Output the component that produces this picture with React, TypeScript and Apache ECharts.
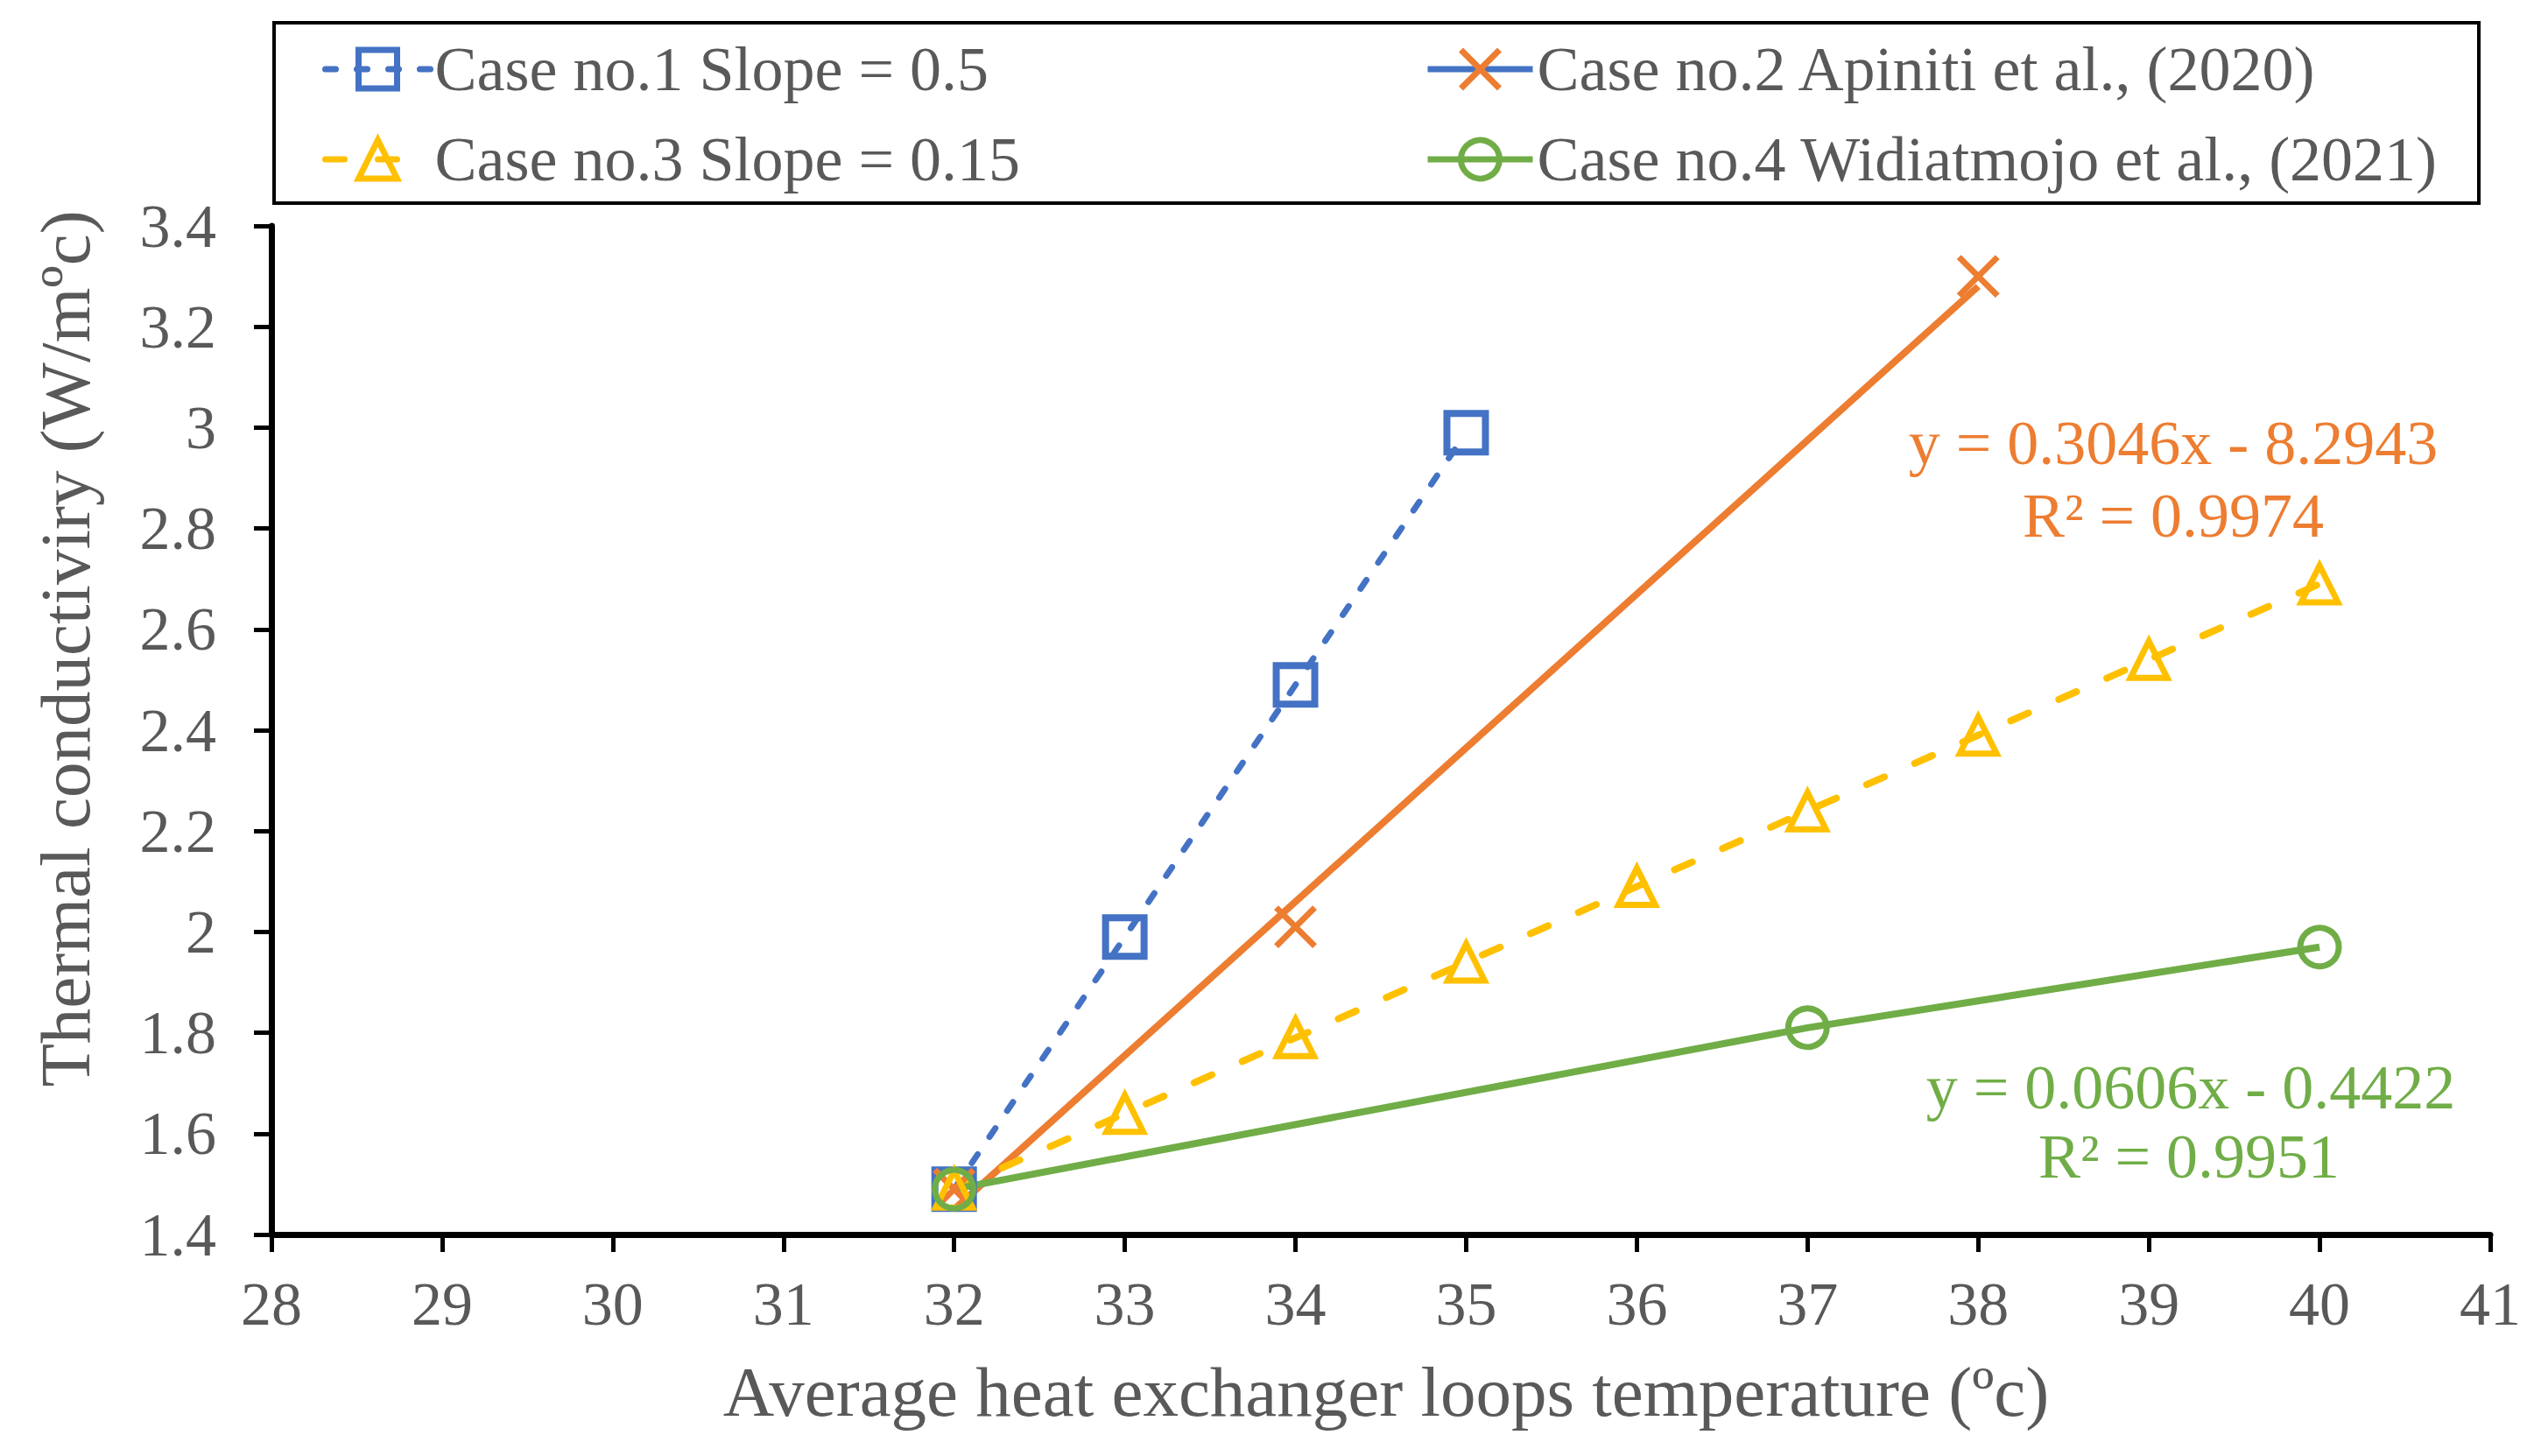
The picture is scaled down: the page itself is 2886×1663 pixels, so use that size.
import React, { useEffect, useRef } from "react";
import * as echarts from "echarts";

const FONT = "'Liberation Serif', 'Times New Roman', serif";
const GRAY = "#595959";
const BLUE = "#4472C4";
const ORANGE = "#ED7D31";
const YELLOW = "#FFC000";
const GREEN = "#70AD47";

const seriesNames = [
  "Case no.1 Slope = 0.5",
  "Case no.2 Apiniti et al., (2020)",
  "Case no.3 Slope = 0.15",
  "Case no.4 Widiatmojo et al., (2021)",
];

const case1X = [32, 33, 34, 35];
const case1Y = [1.49, 1.99, 2.49, 2.99];

const case2X = [32, 34, 38];
const case2Y = [1.49, 2.01, 3.3];

const trend2X = [32, 38];
const trend2Y = [1.45, 3.28];

const case3X = [32, 33, 34, 35, 36, 37, 38, 39, 40];
const case3Y = [1.49, 1.64, 1.79, 1.94, 2.09, 2.24, 2.39, 2.54, 2.69];

const case4X = [32, 37, 40];
const case4Y = [1.49, 1.81, 1.97];

const eq2 = ["y = 0.3046x - 8.2943", "R\u00b2 = 0.9974"];
const eq4 = ["y = 0.0606x - 0.4422", "R\u00b2 = 0.9951"];

const xAxisTitle = "Average heat exchanger loops temperature (\u00bac)";
const yAxisTitle = "Thermal conductiviry (W/m\u00bac)";

const xMin = 28;
const xMax = 41;
const yMin = 1.4;
const yMax = 3.4;

const zip = (xs: number[], ys: number[]) => xs.map((x, i) => [x, ys[i]]);

const CROSS = "path://M0,0L10,10M10,0L0,10";

export default function App() {
  const ref = useRef<HTMLDivElement>(null);

  useEffect(() => {
    if (!ref.current) return;
    const chart = echarts.init(ref.current, null, { renderer: "svg" });

    const legendCommon = {
      orient: "vertical",
      top: 43,
      padding: 0,
      itemWidth: 120,
      itemHeight: 55,
      itemGap: 31,
      selectedMode: false,
      textStyle: { fontSize: 72, lineHeight: 72, color: GRAY, fontFamily: FONT },
      itemStyle: { borderWidth: 7 },
      lineStyle: { width: 7 },
    };

    const textStyle = (size: number, color: string) => ({
      fontSize: size,
      fontFamily: FONT,
      fill: color,
      align: "center",
      verticalAlign: "middle",
    });

    const option: any = {
      animation: false,
      backgroundColor: "#ffffff",
      grid: {
        left: 310,
        right: 42,
        top: 258,
        bottom: 253,
        containLabel: false,
        outerBoundsMode: "none",
      },
      legend: [
        {
          ...legendCommon,
          left: 368,
          data: [seriesNames[0], seriesNames[2]],
        },
        {
          ...legendCommon,
          left: 1627,
          data: [
            {
              name: seriesNames[1],
              lineStyle: { color: BLUE, width: 7, type: "solid" },
            },
            seriesNames[3],
          ],
        },
      ],
      xAxis: {
        type: "value",
        min: xMin,
        max: xMax,
        interval: 1,
        splitLine: { show: false },
        axisLine: { show: true, onZero: false, lineStyle: { color: "#000", width: 7 } },
        axisTick: { show: true, length: 20, lineStyle: { color: "#000", width: 5 } },
        axisLabel: { fontSize: 70, color: GRAY, fontFamily: FONT, margin: 44 },
      },
      yAxis: {
        type: "value",
        min: yMin,
        max: yMax,
        interval: 0.2,
        splitLine: { show: false },
        axisLine: { show: true, onZero: false, lineStyle: { color: "#000", width: 7 } },
        axisTick: { show: true, length: 20, lineStyle: { color: "#000", width: 5 } },
        axisLabel: { fontSize: 70, color: GRAY, fontFamily: FONT, margin: 63 },
      },
      series: [
        {
          type: "line",
          name: seriesNames[0],
          data: zip(case1X, case1Y),
          symbol: "rect",
          symbolSize: 44,
          itemStyle: { color: "rgba(0,0,0,0)", borderColor: BLUE, borderWidth: 8 },
          lineStyle: { color: BLUE, width: 7, type: [12, 24], cap: "round" },
          emphasis: { disabled: true },
        },
        {
          type: "line",
          name: seriesNames[1],
          data: zip(case2X, case2Y),
          symbol: CROSS,
          symbolSize: 44,
          itemStyle: { color: "rgba(0,0,0,0)", borderColor: ORANGE, borderWidth: 7 },
          lineStyle: { color: ORANGE, width: 0 },
          emphasis: { disabled: true },
        },
        {
          type: "line",
          name: "trend2",
          data: zip(trend2X, trend2Y),
          symbol: "none",
          lineStyle: { color: ORANGE, width: 8 },
          silent: true,
          emphasis: { disabled: true },
        },
        {
          type: "line",
          name: seriesNames[2],
          data: zip(case3X, case3Y),
          symbol: "triangle",
          symbolSize: 42,
          itemStyle: { color: "rgba(0,0,0,0)", borderColor: YELLOW, borderWidth: 7 },
          lineStyle: { color: YELLOW, width: 8, type: [22, 38], cap: "round" },
          emphasis: { disabled: true },
        },
        {
          type: "line",
          name: seriesNames[3],
          data: zip(case4X, case4Y),
          symbol: "circle",
          symbolSize: 44,
          itemStyle: { color: "rgba(0,0,0,0)", borderColor: GREEN, borderWidth: 7 },
          lineStyle: { color: GREEN, width: 8 },
          emphasis: { disabled: true },
        },
      ],
      graphic: [
        {
          type: "rect",
          silent: true,
          shape: { x: 313, y: 26, width: 2518, height: 206 },
          style: { fill: "none", stroke: "#000", lineWidth: 4 },
        },
        {
          type: "text",
          x: 1583,
          y: 1590,
          style: { text: xAxisTitle, ...textStyle(81, GRAY) },
        },
        {
          type: "text",
          x: 75,
          y: 741,
          rotation: Math.PI / 2,
          style: { text: yAxisTitle, ...textStyle(81, GRAY) },
        },
        { type: "text", x: 2482, y: 506, style: { text: eq2[0], ...textStyle(72, ORANGE) } },
        { type: "text", x: 2482, y: 589, style: { text: eq2[1], ...textStyle(72, ORANGE) } },
        { type: "text", x: 2502, y: 1242, style: { text: eq4[0], ...textStyle(72, GREEN) } },
        { type: "text", x: 2500, y: 1321, style: { text: eq4[1], ...textStyle(72, GREEN) } },
      ],
    };

    chart.setOption(option);
    return () => chart.dispose();
  }, []);

  return (
    <div
      ref={ref}
      style={{ position: "fixed", left: 0, top: 0, width: "2886px", height: "1663px" }}
    />
  );
}
